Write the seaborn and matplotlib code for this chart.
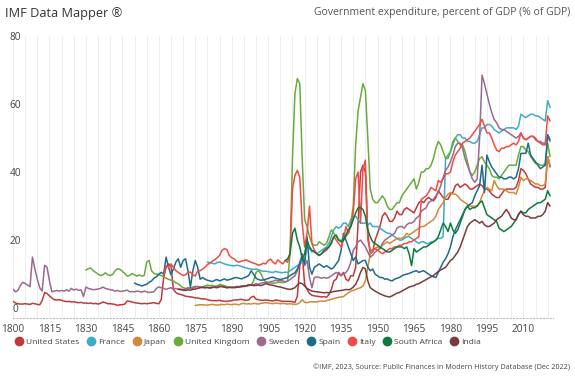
import matplotlib
matplotlib.use("Agg")
import matplotlib.pyplot as plt
from matplotlib.lines import Line2D
import numpy as np
import pandas as pd
import seaborn as sns

# government expenditure, % of GDP
countries = ["United States", "France", "Japan", "United Kingdom", "Sweden",
             "Spain", "Italy", "South Africa", "India"]
colors = ["#c0393b", "#3fabc8", "#d18a3a", "#69ab3c", "#9a6a8f",
          "#1e6c8b", "#ef4c45", "#0f7a3d", "#7b3b3d"]

us_start = 1800
us = [2.0, 1.5, 1.3, 1.2, 1.2, 1.3, 1.2, 1.1, 1.4, 1.3,
      1.1, 1.0, 2.2, 4.6, 4.3, 3.6, 3.0, 2.5, 2.4, 2.5,
      2.3, 2.1, 1.9, 2.0, 1.8, 1.9, 1.7, 1.6, 1.7, 1.5,
      1.5, 1.4, 1.5, 1.3, 1.4, 1.2, 1.4, 1.8, 1.6, 1.3,
      1.3, 1.2, 1.1, 0.8, 1.0, 1.0, 1.2, 2.1, 2.0, 1.8,
      1.6, 1.5, 1.4, 1.3, 1.4, 1.3, 1.4, 1.5, 1.6, 1.4,
      1.3, 2.5, 9.0, 12.0, 13.0, 12.5, 5.5, 4.6, 4.2, 4.0,
      3.8, 3.5, 3.4, 3.3, 3.2, 3.0, 3.0, 2.8, 2.7, 2.7,
      2.5, 2.3, 2.2, 2.2, 2.2, 2.3, 2.1, 2.0, 2.0, 2.1,
      2.2, 2.4, 2.4, 2.5, 2.6, 2.4, 2.3, 2.4, 3.2, 3.5,
      2.6, 2.5, 2.3, 2.3, 2.4, 2.3, 2.2, 2.1, 2.4, 2.3,
      2.1, 2.0, 2.0, 2.0, 2.0, 1.9, 1.7, 3.5, 12.5, 16.0,
      7.0, 5.5, 4.3, 3.8, 3.6, 3.5, 3.4, 3.3, 3.4, 3.2,
      4.0, 5.5, 8.0, 8.5, 10.5, 9.5, 10.5, 8.5, 8.0, 9.5,
      9.5, 12.0, 25.0, 40.0, 42.0, 40.0, 22.0, 16.0, 16.5, 20.0,
      22.0, 24.0, 27.0, 28.0, 27.0, 25.5, 25.5, 26.5, 28.5, 27.5,
      27.5, 29.0, 29.5, 29.0, 28.5, 28.0, 29.5, 31.0, 31.5, 31.0,
      32.0, 32.5, 32.0, 31.5, 32.5, 34.5, 33.5, 32.5, 32.0, 32.0,
      33.5, 34.0, 36.0, 36.5, 35.5, 36.0, 36.5, 36.0, 35.0, 35.0,
      35.5, 36.0, 36.5, 36.0, 35.0, 35.0, 34.5, 33.5, 33.0, 32.5,
      32.5, 33.5, 34.5, 35.0, 35.0, 35.0, 35.0, 35.5, 37.5, 41.0,
      40.5, 39.5, 38.0, 36.5, 36.0, 35.5, 35.5, 35.0, 35.0, 35.5,
      44.5, 41.5]

france_start = 1880
france = [13.5, 13.4, 13.2, 13.0, 13.4, 13.6, 13.3, 13.0, 12.8, 12.6,
          12.5, 12.4, 12.6, 12.5, 12.3, 12.0, 11.8, 11.6, 11.5, 11.4,
          11.5, 11.3, 11.0, 10.8, 10.9, 10.7, 10.6, 10.5, 10.8, 10.6,
          10.5, 10.4, 10.6, 10.5, None, None, None, None, None, None,
          14.0, 18.0, 17.5, 16.5, 17.0, 16.0, 16.5, 17.0, 17.5, 18.0,
          19.0, 21.0, 23.0, 24.0, 23.5, 24.0, 25.0, 25.0, 24.0, 26.0,
          27.0, 27.0, 26.0, 25.0, 25.0, 25.0, 24.5, 25.0, 24.0, 24.0,
          24.0, 23.5, 23.0, 22.5, 22.0, 22.0, 21.5, 21.0, 20.5, 20.0,
          20.0, 20.5, 21.0, 21.0, 20.5, 20.0, 19.5, 19.0, 19.5, 19.5,
          19.0, 19.0, 19.5, 19.5, 20.0, 20.5, 20.5, 21.0, 44.0, 45.0,
          46.0, 48.0, 50.0, 51.0, 51.0, 50.0, 50.0, 49.0, 49.0, 48.5,
          48.5, 49.0, 51.0, 53.0, 53.0, 54.0, 54.0, 53.5, 52.5, 52.0,
          51.5, 52.0, 52.5, 53.0, 53.0, 53.0, 53.0, 52.5, 53.5, 57.0,
          56.5, 56.0, 56.5, 57.0, 57.0, 56.5, 56.5, 56.0, 55.5, 55.0,
          61.0, 59.0]

japan_start = 1875
japan = [0.8, 0.9, 1.0, 1.0, 0.9,
         0.9, 1.0, 1.1, 1.0, 0.9, 1.0, 1.1, 1.0, 1.2, 1.1,
         1.0, 1.2, 1.1, 1.0, 1.3, 1.4, 1.2, 1.3, 1.2, 1.4,
         1.3, 1.2, 1.4, 1.5, 1.6, 1.5, 1.4, 1.3, 1.5, 1.4,
         1.3, 1.4, 1.3, 1.2, 1.3, 1.2, 1.1, 1.2, 1.6, 2.5,
         1.7, 1.6, 1.8, 1.9, 1.8, 1.8, 2.0, 2.1, 2.0, 2.2,
         2.4, 2.6, 2.8, 3.0, 3.2, 3.3, 3.4, 4.0, 4.5, 5.0,
         5.2, 5.5, 5.8, 6.0, 6.5, 8.0, 12.0, 16.0, 17.0, 17.5,
         18.0, 17.5, 18.5, 19.0, 19.5, 19.0, 19.5, 20.0, 20.5, 20.5,
         20.5, 21.0, 22.0, 21.5, 22.0, 22.5, 23.0, 23.5, 24.0, 24.0,
         24.5, 25.0, 25.5, 26.0, 27.0, 29.0, 30.0, 31.0, 32.5, 33.5,
         34.0, 33.5, 33.5, 33.0, 32.0, 31.5, 31.0, 30.5, 30.0, 30.0,
         30.0, 30.0, 31.0, 33.0, 34.5, 35.5, 35.0, 34.5, 37.5, 36.0,
         35.0, 35.0, 35.0, 34.5, 34.0, 34.0, 34.0, 33.5, 35.5, 38.5,
         37.5, 38.0, 38.0, 37.5, 37.0, 36.5, 36.5, 36.0, 36.0, 36.5,
         44.5, 42.0]

uk_start = 1830
uk = [11.2, 11.6, 11.8, 11.0, 10.5, 10.0, 9.6, 9.8, 10.4, 9.8,
      9.6, 9.9, 11.0, 11.6, 11.4, 10.8, 10.2, 9.4, 9.6, 10.2,
      9.8, 9.4, 9.8, 9.4, 9.6, 13.5, 14.0, 11.0, 10.2, 10.0,
      9.8, 9.6, 9.2, 8.8, 8.5, 8.2, 8.0, 7.4, 7.2, 6.5,
      6.0, 5.8, 6.0, 5.8, 6.2, 6.4, 6.3, 6.1, 6.2, 6.5,
      6.8, 6.6, 6.7, 6.5, 6.4, 7.0, 6.8, 6.6, 6.3, 6.2,
      6.0, 6.1, 6.2, 6.3, 6.4, 6.4, 6.5, 6.6, 6.8, 8.0,
      10.5, 11.0, 10.2, 8.5, 7.8, 7.6, 7.4, 7.3, 7.4, 7.6,
      7.6, 7.5, 7.6, 8.0, 16.0, 44.0, 63.0, 67.5, 66.0, 44.0,
      26.0, 24.0, 21.0, 19.0, 18.5, 18.5, 19.5, 19.0, 18.5, 19.0,
      21.0, 23.0, 22.0, 21.0, 20.0, 20.0, 20.0, 21.0, 22.0, 25.0,
      30.0, 48.0, 58.0, 62.0, 66.0, 64.0, 50.0, 35.0, 32.0, 31.0,
      31.0, 32.0, 33.0, 32.0, 30.0, 29.0, 29.0, 30.0, 31.0, 31.0,
      33.0, 34.0, 35.0, 36.0, 37.0, 38.0, 35.0, 37.0, 40.0, 40.0,
      41.0, 41.0, 42.0, 44.0, 47.0, 49.0, 48.0, 46.0, 44.0, 44.0,
      46.0, 49.0, 50.0, 49.0, 48.0, 48.0, 46.0, 43.0, 40.0, 39.0,
      40.0, 42.0, 44.0, 44.5, 43.0, 42.0, 41.0, 39.0, 38.5, 38.5,
      38.0, 39.0, 40.0, 41.0, 42.0, 42.0, 42.0, 42.0, 45.0, 47.5,
      47.5, 46.5, 46.0, 44.5, 43.5, 42.5, 42.5, 42.0, 42.0, 42.5,
      48.5, 44.5]

sweden_start = 1800
sweden = [5.6, 4.8, 5.2, 6.6, 7.6, 7.2, 6.8, 6.3, 15.0, 11.5,
          8.5, 6.0, 5.0, 12.6, 12.0, 8.0, 4.8, 5.0, 5.2, 5.0,
          5.2, 5.0, 5.4, 5.0, 5.8, 5.3, 5.6, 5.2, 5.4, 3.4,
          6.2, 5.8, 5.6, 5.4, 5.5, 5.6, 5.8, 6.2, 5.8, 5.6,
          5.4, 5.3, 5.0, 5.2, 4.9, 5.0, 5.1, 5.3, 4.8, 4.9,
          4.8, 5.0, 4.9, 4.7, 5.0, 4.8, 4.6, 4.7, 4.8, 5.8,
          6.2, 6.0, 5.8, 5.5, 5.8, 6.0, 5.6, 5.8, 5.5, 5.6,
          5.4, 5.6, 5.8, 6.0, 5.8, 6.2, 6.4, 6.2, 6.0, 6.0,
          6.1, 5.8, 6.0, 6.2, 6.4, 6.5, 6.3, 6.2, 6.0, 6.1,
          6.0, 6.2, 6.4, 6.3, 6.5, 6.6, 6.4, 6.8, 6.7, 6.9,
          7.2, 7.0, 7.3, 7.5, 7.6, 7.4, 7.8, 7.9, 8.2, 8.0,
          8.1, 8.0, 7.8, 7.9, 8.4, 9.0, 9.5, 11.0, 13.5, 15.5,
          12.5, 14.0, 9.0, 6.0, 9.0, 9.2, 9.0, 8.8, 9.0, 8.8,
          9.0, 9.5, 10.0, 10.5, 10.0, 9.8, 10.0, 10.5, 11.5, 13.5,
          17.0, 18.0, 19.5, 20.0, 19.0, 18.0, 16.5, 15.0, 15.5, 16.5,
          17.0, 17.5, 19.0, 20.0, 20.5, 21.0, 21.5, 22.0, 23.5, 24.0,
          24.0, 23.5, 24.5, 25.0, 25.0, 25.5, 26.5, 27.0, 28.5, 29.0,
          29.5, 31.0, 31.5, 32.0, 33.0, 34.0, 36.0, 38.5, 40.5, 41.5,
          43.0, 45.0, 47.5, 48.5, 48.5, 47.0, 44.0, 42.0, 40.0, 38.0,
          37.0, 38.0, 50.0, 68.5, 66.0, 63.0, 60.0, 57.5, 55.5, 54.5,
          53.0, 52.5, 52.5, 52.0, 51.5, 51.0, 50.5, 50.0, 50.5, 51.5,
          50.0, 49.5, 50.0, 50.5, 50.5, 49.5, 49.0, 49.0, 48.5, 48.5,
          50.5, 49.0]

spain_start = 1850
spain = [7.4, 7.0, 6.8, 6.5, 6.8, 7.0, 7.6, 8.0, 8.8, 9.2,
         10.0, 10.5, 10.0, 15.0, 12.0, 9.8, 11.5, 13.5, 14.5, 12.0,
         14.0, 14.5, 11.0, 6.2, 11.0, 14.0, 12.0, 8.5, 9.0, 8.5,
         8.2, 8.0, 7.8, 8.2, 8.4, 8.0, 8.3, 8.6, 8.2, 8.4,
         8.6, 8.9, 9.0, 8.8, 8.6, 8.9, 9.2, 9.6, 11.0, 10.0,
         8.8, 8.4, 8.2, 8.3, 8.5, 8.7, 9.0, 9.1, 8.8, 8.6,
         8.4, 8.6, 8.8, 9.0, 9.6, 10.0, 10.4, 11.5, 13.0, 15.0,
         13.0, 21.0, 12.0, 10.0, 12.0, 12.5, 13.0, 12.5, 12.0, 12.5,
         12.0, 11.5, 12.0, 13.0, 14.0, 17.0, 22.0, None, None, None,
         14.0, 15.0, 13.0, 13.5, 14.0, 14.0, 12.0, 11.0, 11.5, 10.0,
         9.5, 9.0, 9.0, 8.5, 8.6, 8.2, 8.0, 8.5, 8.8, 9.0,
         9.5, 9.8, 10.0, 10.2, 10.5, 10.8, 11.0, 10.5, 10.8, 11.0,
         10.5, 10.0, 9.5, 9.2, 9.0, 10.5, 12.0, 13.5, 14.5, 16.0,
         18.0, 21.0, 23.0, 24.5, 26.0, 27.5, 29.0, 30.0, 30.5, 31.0,
         33.0, 34.5, 36.0, 42.0, 34.0, 45.0, 43.0, 41.5, 40.5, 39.5,
         38.5, 38.5, 38.0, 38.0, 38.5, 38.5, 38.0, 38.5, 41.0, 45.5,
         45.5, 45.5, 48.5, 45.0, 44.0, 43.0, 42.0, 41.0, 41.5, 42.0,
         51.0, 49.5]

italy_start = 1862
italy = [9.5, 12.5, 12.0, 13.0, 12.0, 11.0, 10.5, 10.0,
         9.6, 9.8, 10.5, 10.6, 9.8, 9.4, 11.0, 11.0, 11.5, 12.0,
         12.8, 13.2, 13.8, 14.2, 14.8, 15.5, 17.0, 17.5, 17.2, 15.5,
         14.8, 14.5, 13.8, 13.5, 13.8, 14.0, 14.2, 13.8, 13.5, 13.2,
         13.0, 12.6, 12.8, 13.2, 13.0, 14.0, 14.4, 13.5, 13.0, 14.2,
         13.5, 13.0, 14.0, 13.5, 16.0, 35.0, 39.0, 40.5, 38.5, 25.0,
         18.0, 22.0, 30.0, 19.0, 17.0, 16.0, 15.5, 16.0, 16.5, 17.0,
         18.0, 19.5, 21.0, 20.0, 19.0, 18.0, 20.0, 24.0, 22.0, 24.0,
         28.0, 38.0, 40.0, 25.0, 41.0, 43.5, 20.0, 17.0, 17.0, 17.5,
         17.0, 16.5, 16.0, 16.5, 17.0, 17.5, 17.5, 18.0, 18.0, 18.5,
         18.5, 19.0, 19.0, 19.5, 19.5, 20.0, 20.5, 21.0, 32.0, 32.5,
         33.0, 34.0, 35.5, 35.0, 34.5, 37.5, 37.0, 38.0, 39.5, 39.5,
         40.0, 43.0, 45.0, 46.0, 47.0, 48.5, 49.0, 49.5, 50.0, 51.0,
         52.0, 53.0, 54.0, 55.5, 53.5, 51.5, 51.5, 50.0, 48.0, 46.5,
         46.0, 47.0, 47.0, 47.5, 47.5, 48.0, 48.5, 48.0, 49.0, 51.5,
         50.0, 49.5, 50.0, 50.5, 50.5, 50.0, 49.0, 48.5, 48.0, 48.0,
         56.5, 55.0]

south_africa_start = 1912
south_africa = [14.0, 14.5, 16.0, 22.0, 23.5, 20.0, 18.0, 14.5,
                16.0, 20.0, 18.0, 17.0, 16.5, 16.0, 15.5, 16.0, 17.0, 17.5,
                18.0, 19.0, 21.0, 21.5, 20.0, 19.5, 20.0, 21.5, 23.0, 24.0,
                26.0, 28.0, 29.5, 29.5, 29.0, 27.0, 23.0, 21.0, 19.5, 19.0,
                18.5, 18.0, 17.5, 17.0, 16.5, 16.5, 17.0, 17.5, 18.0, 18.0,
                18.0, 17.5, 18.0, 16.0, 12.5, 17.5, 16.5, 17.0, 17.5, 18.0,
                18.0, 18.5, 19.0, 19.5, 20.0, 21.0, 23.0, 25.0, 24.0, 22.5,
                25.0, 23.0, 22.0, 23.0, 25.0, 27.0, 29.0, 30.0, 29.0, 29.5,
                29.5, 30.0, 31.0, 31.5, 29.5, 27.5, 27.0, 26.5, 26.0, 25.5,
                23.5, 23.0, 22.5, 23.0, 23.5, 24.0, 25.0, 26.0, 27.5, 28.5,
                28.0, 28.0, 29.0, 29.5, 30.0, 30.5, 31.0, 31.0, 31.5, 32.0,
                34.5, 33.0]

india_start = 1868
india = [5.6, 5.4,
         5.3, 5.2, 5.4, 5.3, 5.5, 5.6, 5.8, 6.0, 6.2, 6.0,
         6.1, 6.0, 6.2, 6.1, 6.0, 6.3, 6.4, 6.2, 6.0, 6.1,
         6.2, 6.0, 6.1, 6.2, 6.3, 6.4, 6.6, 6.9, 6.8, 6.6,
         6.7, 6.8, 6.6, 6.9, 7.2, 7.0, 6.8, 6.7, 6.5, 6.3,
         6.2, 6.0, 5.8, 5.6, 5.5, 5.7, 6.0, 6.8, 7.4, 7.2,
         6.5, 5.8, 5.4, 5.0, 4.9, 4.8, 4.7, 4.6, 4.5, 4.6,
         4.5, 4.7, 4.9, 5.0, 5.1, 5.2, 5.3, 5.5, 5.4, 5.6,
         6.2, 7.0, 8.5, 10.5, 12.0, 11.5, 8.0, 6.0, 5.5, 5.0,
         4.6, 4.2, 3.9, 3.6, 3.4, 3.3, 3.6, 4.0, 4.4, 4.6,
         5.0, 5.4, 5.8, 6.2, 6.4, 6.6, 7.0, 7.2, 7.6, 8.0,
         8.4, 8.8, 9.2, 9.6, 10.2, 10.8, 11.2, 11.6, 12.0, 13.0,
         14.0, 14.5, 15.5, 16.5, 18.0, 20.0, 22.0, 24.0, 25.0, 25.5,
         26.0, 25.5, 25.0, 25.5, 24.5, 24.0, 24.0, 24.5, 25.0, 26.0,
         26.5, 27.0, 28.0, 29.0, 28.0, 26.5, 26.0, 26.0, 27.5, 28.5,
         27.5, 27.0, 27.0, 26.5, 26.5, 26.5, 27.0, 27.0, 27.5, 28.5,
         31.0, 30.0]

series = {
    "United States": (us_start, us),
    "France": (france_start, france),
    "Japan": (japan_start, japan),
    "United Kingdom": (uk_start, uk),
    "Sweden": (sweden_start, sweden),
    "Spain": (spain_start, spain),
    "Italy": (italy_start, italy),
    "South Africa": (south_africa_start, south_africa),
    "India": (india_start, india),
}

rows = []
for name, (start, vals) in series.items():
    for i, v in enumerate(vals):
        rows.append({"Year": start + i, "Value": v, "Country": name})
df = pd.DataFrame(rows).dropna()   # gaps are joined straight across, as in the source

sns.set_style("white")
plt.rcParams["font.family"] = ["Open Sans", "DejaVu Sans"]

fig = plt.figure(figsize=(5.75, 3.76), dpi=100)
ax = fig.add_axes([13 / 575, 1 - 318 / 376, 540 / 575, 282 / 376])

palette = dict(zip(countries, colors))
sns.lineplot(data=df, x="Year", y="Value", hue="Country", hue_order=countries,
             palette=palette, estimator=None, linewidth=1.1, legend=False, ax=ax)

ax.set_xlim(1800, 2022.2)
ax.set_ylim(-2.9, 80)
ax.set_xticks(range(1800, 2011, 15))
ax.set_xticks(range(1800, 2023, 5), minor=True)
ax.set_yticks([0, 20, 40, 60, 80])
ax.grid(axis="x", which="both", color="#eeeeee", linewidth=0.7)
ax.grid(axis="y", visible=False)
ax.set_axisbelow(True)
ax.set_xlabel("")
ax.set_ylabel("")

for side in ["top", "right", "left"]:
    ax.spines[side].set_visible(False)
ax.spines["bottom"].set_linestyle((0, (1, 2)))
ax.spines["bottom"].set_color("#bbbbbb")
ax.spines["bottom"].set_linewidth(0.8)

ax.tick_params(axis="x", which="both", length=0, pad=4, labelsize=7.3, labelcolor="#444444")
ax.tick_params(axis="y", length=0, pad=-1.5, labelsize=7.3, labelcolor="#444444")
for lab in ax.get_yticklabels():
    lab.set_horizontalalignment("center")

fig.text(5 / 575, 1 - 13 / 376, "IMF Data Mapper ®", fontsize=9.2, color="#333333",
         ha="left", va="center")
fig.text(570 / 575, 1 - 13 / 376, "Government expenditure, percent of GDP (% of GDP)",
         fontsize=7.5, color="#555555", ha="right", va="center")
fig.text(570 / 575, 1 - 367 / 376,
         "©IMF, 2023, Source: Public Finances in Modern History Database (Dec 2022)",
         fontsize=5.2, color="#444444", ha="right", va="center")

handles = [Line2D([], [], marker="o", linestyle="", markersize=6, color=c) for c in colors]
fig.legend(handles, countries, loc="center left", bbox_to_anchor=(12 / 575, 1 - 342 / 376),
           ncol=9, frameon=False, fontsize=6.1, handlelength=0.7, handletextpad=0.5,
           columnspacing=1.0, borderpad=0, labelcolor="#444444")

fig.savefig("out.png", dpi=100)
